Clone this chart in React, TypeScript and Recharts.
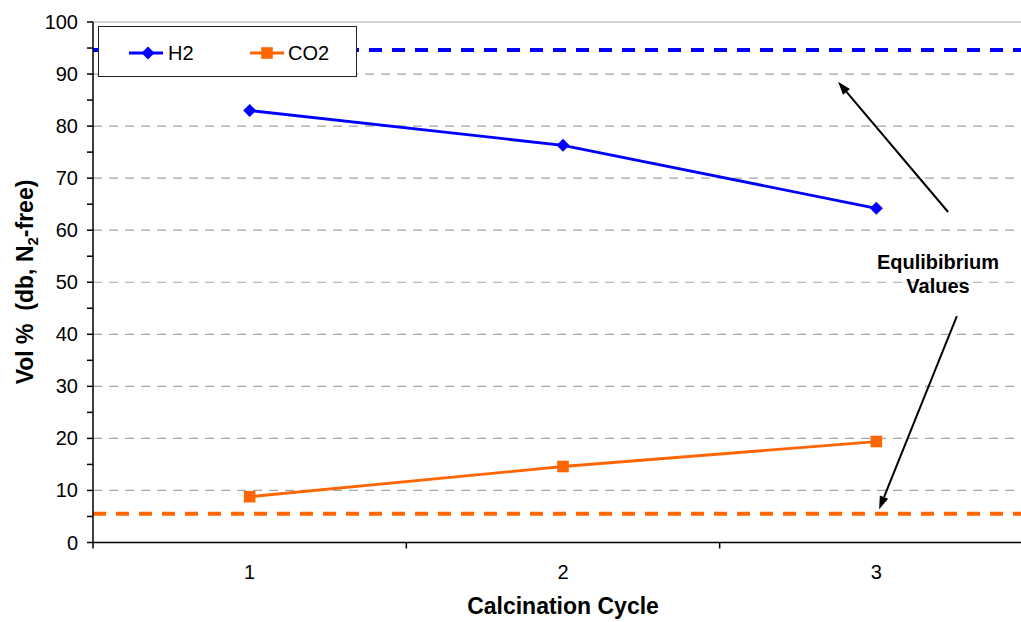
import React from "react";
import { LineChart, Line, XAxis, YAxis, ReferenceLine } from "recharts";

// calcination cycles and measured gas composition (vol %, dry, N2-free)
const cycles = [1, 2, 3];
const h2 = [83.0, 76.3, 64.2];
const co2 = [8.8, 14.6, 19.4];

// equilibrium composition
const h2Equilibrium = 94.6;
const co2Equilibrium = 5.5;

const yTicks = [0, 5, 10, 15, 20, 25, 30, 35, 40, 45, 50, 55, 60, 65, 70, 75, 80, 85, 90, 95, 100];
const gridValues = [10, 20, 30, 40, 50, 60, 70, 80, 90];
const xTicks = [0.5, 1, 1.5, 2, 2.5, 3, 3.5];

// annotation arrows, [tail, tip] in data units
const arrows = [
  [{ x: 3.229, y: 63.5 }, { x: 2.878, y: 88.5 }],
  [{ x: 3.257, y: 43.5 }, { x: 3.009, y: 6.4 }],
];

const data = cycles.map((c, i) => ({ cycle: c, h2: h2[i], co2: co2[i] }));

const FONT = '"Liberation Sans", Arial, sans-serif';
const BLUE = "#0000ff";
const ORANGE = "#ff6600";

const Diamond = ({ cx, cy, fill, r = 6.5 }: any) => (
  <polygon points={`${cx},${cy - r} ${cx + r},${cy} ${cx},${cy + r} ${cx - r},${cy}`} fill={fill} />
);
const Square = ({ cx, cy, fill, r = 5.8 }: any) => (
  <rect x={cx - r} y={cy - r} width={r * 2} height={r * 2} fill={fill} />
);

const XTick = ({ x, y, payload }: any) => {
  const v = payload.value;
  if (Number.isInteger(v))
    return (
      <text x={x} y={y + 36} textAnchor="middle" fontSize={20} fontFamily={FONT} fill="#000">
        {v}
      </text>
    );
  return <line x1={x} x2={x} y1={y} y2={y + 6} stroke="#000" strokeWidth={1.5} />;
};

const YTick = ({ x, y, payload }: any) =>
  payload.value % 10 === 0 ? (
    <text x={x - 9} y={y + 7} textAnchor="end" fontSize={20} fontFamily={FONT} fill="#000">
      {payload.value}
    </text>
  ) : null;

const Arrow = ({ x1, y1, x2, y2 }: any) => {
  const a = Math.atan2(y2 - y1, x2 - x1);
  const len = 13;
  const w = 4.5;
  const bx = x2 - len * Math.cos(a);
  const by = y2 - len * Math.sin(a);
  const px = -Math.sin(a) * w;
  const py = Math.cos(a) * w;
  return (
    <g>
      <line x1={x1} y1={y1} x2={bx} y2={by} stroke="#000" strokeWidth={2} />
      <polygon points={`${x2},${y2} ${bx + px},${by + py} ${bx - px},${by - py}`} fill="#000" />
    </g>
  );
};

const YTitle = () => (
  <text
    x={33}
    y={282}
    transform="rotate(-90, 33, 282)"
    textAnchor="middle"
    fontSize={23}
    fontWeight="bold"
    fontFamily={FONT}
    fill="#000"
  >
    Vol %{"\u00a0\u00a0"}(db, N
    <tspan fontSize={15} dy={5}>2</tspan>
    <tspan dy={-5}>-free)</tspan>
  </text>
);

export default function App() {
  return (
    <div style={{ position: "absolute", left: 0, top: 0, width: 1021, height: 622, overflow: "hidden", background: "#fff" }}>
      <LineChart width={1050} height={622} data={data} margin={{ top: 22, right: 17, bottom: 19.5, left: 0 }}>
        {gridValues.map((v) => (
          <ReferenceLine key={v} y={v} stroke="#a6a6a6" strokeWidth={1.2} strokeDasharray="9 7" />
        ))}
        <ReferenceLine y={100} stroke="#a6a6a6" strokeWidth={1.2} />
        <XAxis
          dataKey="cycle"
          type="number"
          domain={[0.5, 3.5]}
          ticks={xTicks}
          interval={0}
          tick={<XTick />}
          tickLine={false}
          tickSize={0}
          tickMargin={0}
          height={60}
          axisLine={{ stroke: "#000", strokeWidth: 1.5 }}
          allowDataOverflow
        />
        <YAxis
          type="number"
          domain={[0, 100]}
          ticks={yTicks}
          interval={0}
          width={93}
          tick={<YTick />}
          tickSize={6}
          tickMargin={0}
          tickLine={{ stroke: "#000", strokeWidth: 1.5 }}
          axisLine={{ stroke: "#000", strokeWidth: 1.5 }}
          label={{ content: <YTitle /> }}
        />
        <ReferenceLine y={h2Equilibrium} stroke={BLUE} strokeWidth={4} strokeDasharray="13 10" />
        <ReferenceLine y={co2Equilibrium} stroke={ORANGE} strokeWidth={4} strokeDasharray="13 10" />
        <Line
          dataKey="h2"
          type="linear"
          stroke={BLUE}
          strokeWidth={2.8}
          dot={(p: any) => <Diamond key={`h${p.index}`} cx={p.cx} cy={p.cy} fill={BLUE} />}
          isAnimationActive={false}
        />
        <Line
          dataKey="co2"
          type="linear"
          stroke={ORANGE}
          strokeWidth={2.8}
          dot={(p: any) => <Square key={`c${p.index}`} cx={p.cx} cy={p.cy} fill={ORANGE} />}
          isAnimationActive={false}
        />
        {arrows.map((seg, i) => (
          <ReferenceLine key={`a${i}`} segment={seg} shape={(p: any) => <Arrow {...p} />} />
        ))}
      </LineChart>

      <div
        style={{
          position: "absolute",
          left: 0,
          width: 1126,
          top: 593,
          textAlign: "center",
          fontFamily: FONT,
          fontWeight: "bold",
          fontSize: 23,
          lineHeight: "26px",
        }}
      >
        Calcination Cycle
      </div>

      <div
        style={{
          position: "absolute",
          left: 838,
          width: 200,
          top: 250,
          textAlign: "center",
          fontFamily: FONT,
          fontWeight: "bold",
          fontSize: 20,
          lineHeight: "24px",
        }}
      >
        Equlibibrium
        <br />
        Values
      </div>

      <div
        style={{
          position: "absolute",
          left: 98,
          top: 26,
          width: 257,
          height: 49,
          border: "1px solid #222",
          background: "#fff",
          fontFamily: FONT,
          fontSize: 20,
        }}
      >
        <svg width={257} height={49} style={{ position: "absolute", left: 0, top: 0 }}>
          <line x1={30} x2={64} y1={26} y2={26} stroke={BLUE} strokeWidth={2.8} />
          <Diamond cx={49} cy={26} fill={BLUE} />
          <text x={69} y={33} fontSize={20} fontFamily={FONT}>H2</text>
          <line x1={151} x2={185} y1={26} y2={26} stroke={ORANGE} strokeWidth={2.8} />
          <Square cx={168} cy={26} fill={ORANGE} />
          <text x={189} y={33} fontSize={20} fontFamily={FONT}>CO2</text>
        </svg>
      </div>
    </div>
  );
}
